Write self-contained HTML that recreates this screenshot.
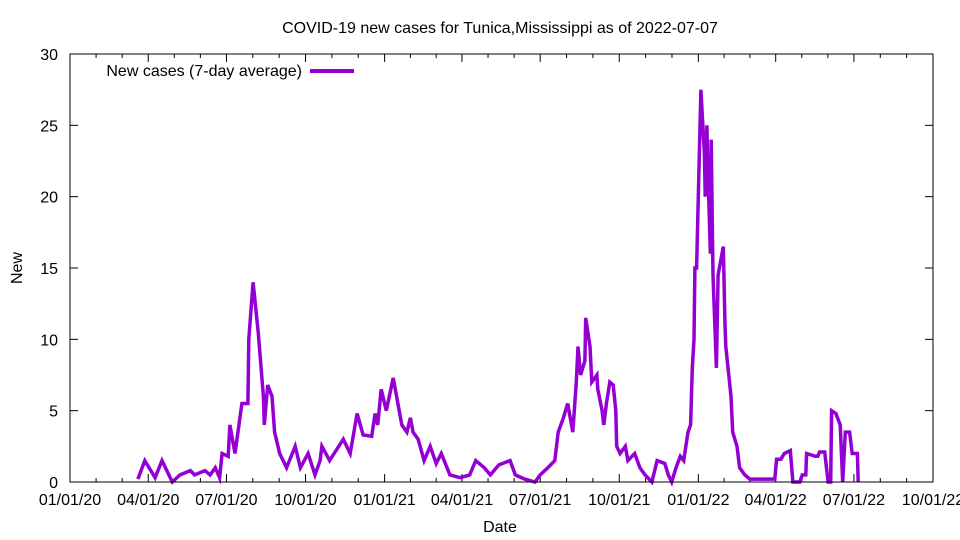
<!DOCTYPE html>
<html><head><meta charset="utf-8"><style>
body{margin:0;background:#fff}
svg{display:block;font-family:"Liberation Sans",Arial,sans-serif}
</style></head><body>
<svg id="chart" width="960" height="540" viewBox="0 0 960 540" xmlns="http://www.w3.org/2000/svg">
<rect width="960" height="540" fill="#fff"/>
<text x="500" y="33" font-size="16" text-anchor="middle">COVID-19 new cases for Tunica,Mississippi as of 2022-07-07</text>
<text x="500" y="532" font-size="16" text-anchor="middle">Date</text>
<text x="22" y="268" font-size="16" text-anchor="middle" transform="rotate(-90 22 268)">New</text>
<g id="axes"></g>
<g id="series"></g>
<g>
<text x="302" y="76" font-size="16" text-anchor="end">New cases (7-day average)</text>
<line x1="310" y1="71" x2="354" y2="71" stroke="#9400d3" stroke-width="4"/>
</g>
<rect x="70" y="54" width="863" height="428" fill="none" stroke="#000" stroke-width="1"/>
</svg>
<script>
const xTickLabels=["01/01/20","04/01/20","07/01/20","10/01/20","01/01/21","04/01/21","07/01/21","10/01/21","01/01/22","04/01/22","07/01/22","10/01/22"];
const xTickDays=[0,91,182,274,366,456,547,639,731,821,912,1004];
const yTicks=[0,5,10,15,20,25,30];
const xs=[138,145,155,162,172,180,190,195,205,210,215,220,222,228,230,235,242,248,249,253,258,263,264,268,272,275,280,287,295,300,308,315,320,322,330,343,350,357,363,372,375,378,381,386,393,397,402,407,410,413,418,424,430,436,441,450,460,470,476,484,490,499,510,515,525,535,540,548,555,558,563,568,573,576,578,581,585,586,590,592,597,598,602,604,606,610,613,616,617,620,625,628,635,640,645,652,657,665,668,672,676,680,684,688,691,692,694,695,697,698,701,704,705,707,708,710,711,713,716,718,723,725,726,731,733,737,740,745,750,775,777,781,784,790,793,800,802,806,807,815,818,820,825,828,831,832,836,840,843,845,850,852,857,858];
// convert sampled positions to day offsets from 2020-01-01
const days=xs.map(x=>Math.round((x-70)/0.8596));
const values=[0.2,1.5,0.3,1.5,0,0.5,0.8,0.5,0.8,0.5,1,0.3,2,1.8,4,2,5.5,5.5,10,14,10.5,6,4,6.8,6,3.5,2,1,2.5,1,2,0.5,1.5,2.5,1.5,3,2,4.8,3.3,3.2,4.8,4,6.5,5,7.3,6,4,3.5,4.5,3.5,3,1.5,2.5,1.3,2,0.5,0.3,0.5,1.5,1,0.5,1.2,1.5,0.5,0.2,0,0.5,1,1.5,3.5,4.5,5.5,3.5,7,9.5,7.5,8.5,11.5,9.5,7,7.5,6.5,5,4,5.5,7,6.8,5,2.5,2,2.5,1.5,2,1,0.5,0,1.5,1.3,0.5,0,1,1.8,1.5,3.5,4,8,10,15,15,20,27.5,23,20,25,22,16,24,14.5,8,14.5,16.5,11,9.5,6,3.5,2.5,1,0.5,0.2,0.2,1.6,1.6,2,2.2,0,0,0.5,0.5,2,1.8,1.8,2.1,2.1,0,0,5,4.8,4,0,3.5,3.5,2,2,0];
const X0=70,X1=933,Y0=482,Y1=54,DMAX=1004,VMAX=30;
const xScale=d=>X0+(X1-X0)*d/DMAX;
const yScale=v=>Y0-(Y0-Y1)*v/VMAX;
const NS="http://www.w3.org/2000/svg";
const axes=document.getElementById('axes');
function mk(tag,attrs,parent){const e=document.createElementNS(NS,tag);for(const k in attrs)e.setAttribute(k,attrs[k]);parent.appendChild(e);return e;}
yTicks.forEach(v=>{
  const y=yScale(v);
  const t=mk('line',{x1:X0,x2:X0+8,y1:y,y2:y,stroke:'#000'},axes);
  
  
  const t2=mk('line',{x1:X1-8,x2:X1,y1:y,y2:y,stroke:'#000'},axes);
  
  
  const l=mk('text',{x:X0-12,y:y+6,'font-size':16,'text-anchor':'end'},axes);
  l.textContent=v;
  
  
});
xTickDays.forEach((d,i)=>{
  const x=xScale(d);
  const t=mk('line',{x1:x,x2:x,y1:Y0,y2:Y0-8,stroke:'#000'},axes);
  
  
  const t2=mk('line',{x1:x,x2:x,y1:Y1,y2:Y1+8,stroke:'#000'},axes);
  
  
  const l=mk('text',{x:x,y:Y0+23,'font-size':16,'text-anchor':'middle'},axes);
  l.textContent=xTickLabels[i];
  
  
  if(i<xTickDays.length-1){
    for(let k=1;k<3;k++){
      const md=d+(xTickDays[i+1]-d)*k/3;
      const mx=xScale(md);
      const m=mk('line',{x1:mx,x2:mx,y1:Y0,y2:Y0-4,stroke:'#000'},axes);
      
      
      const m2=mk('line',{x1:mx,x2:mx,y1:Y1,y2:Y1+4,stroke:'#000'},axes);
      
      
    }
  }
});
const pts=days.map((d,i)=>xScale(d).toFixed(1)+','+yScale(values[i]).toFixed(1)).join(' ');
const line=mk('polyline',{points:pts,fill:'none',stroke:'#9400d3','stroke-width':3.5,'stroke-linejoin':'miter'},document.getElementById('series'));


</script>
</body></html>
